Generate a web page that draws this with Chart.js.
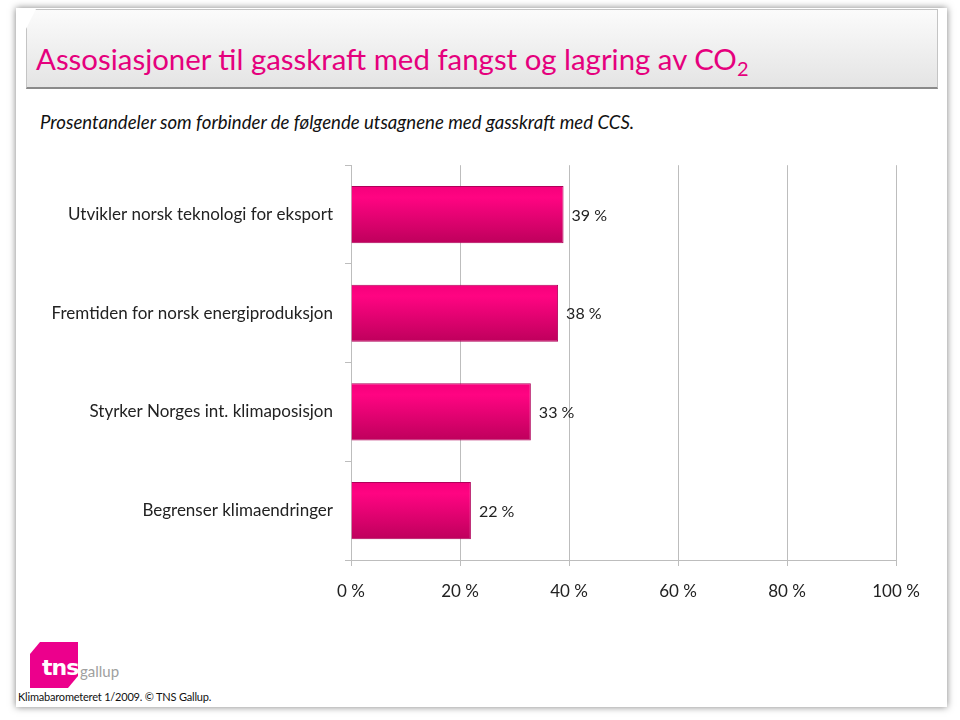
<!DOCTYPE html>
<html>
<head>
<meta charset="utf-8">
<script src="https://cdn.jsdelivr.net/npm/chart.js@4.4.1/dist/chart.umd.min.js"></script>
<style>
  html, body { margin: 0; padding: 0; background: #fff; width: 960px; height: 720px; overflow: hidden; }
  body { position: relative; font-family: Lato, "Open Sans", sans-serif; }
  .slide { position: absolute; left: 16px; top: 8px; width: 931px; height: 699px; background: #fff;
    box-shadow: 0 0 7px rgba(0,0,0,0.5); }
  .titlebox { position: absolute; left: 26px; top: 9px; width: 910px; height: 77px;
    background: linear-gradient(#fbfbfb, #e4e4e4); border: 1px solid #c4c4c4; border-bottom: 2px solid #8a8a8a;
    clip-path: polygon(10px 0, 100% 0, 100% 100%, 0 100%, 0 20px); }
  .title { position: absolute; left: 36px; top: 41px; font-size: 29.4px; color: #e5007d; white-space: nowrap; }
  .title sub { font-size: 20px; vertical-align: -6px; line-height: 0; }
  .subtitle { position: absolute; left: 40px; top: 111px; font-size: 18.6px; font-style: italic; color: #111; white-space: nowrap; }
  #wrap { position: absolute; left: 0; top: 143px; width: 960px; height: 477px; }
  .logo { position: absolute; left: 30px; top: 642px; width: 48px; height: 46px; background: #ec008c;
    clip-path: polygon(10px 0, 100% 0, 100% 34px, 38px 100%, 0 100%, 0 12px); }
  .tns { position: absolute; left: 42px; top: 655px; font-family: "DejaVu Sans", sans-serif; font-weight: bold; font-size: 22px; color: #fff; letter-spacing: -1px; }
  .gallup { position: absolute; left: 80px; top: 662px; font-size: 15px; color: #a0a0a0; }
  .footer { position: absolute; left: 18px; top: 690px; font-size: 11px; letter-spacing: -0.2px; color: #111; white-space: nowrap; }
</style>
</head>
<body>
<div class="slide"></div>
<div class="titlebox"></div>
<div class="title">Assosiasjoner til gasskraft med fangst og lagring av CO<sub>2</sub></div>
<div class="subtitle">Prosentandeler som forbinder de følgende utsagnene med gasskraft med CCS.</div>
<div id="wrap"><canvas id="chart"></canvas></div>
<div class="logo"></div>
<div class="tns">tns</div>
<div class="gallup">gallup</div>
<div class="footer">Klimabarometeret 1/2009. © TNS Gallup.</div>
<script>
const categories = [
  'Utvikler norsk teknologi for eksport',
  'Fremtiden for norsk energiproduksjon',
  'Styrker Norges int. klimaposisjon',
  'Begrenser klimaendringer'
];
const shares = [39, 38, 33, 22];
const xTicks = [0, 20, 40, 60, 80, 100];

const catFont = { family: 'Lato, sans-serif', size: 17 };
const tickFont = { family: 'Lato, sans-serif', size: 17 };
const valueFont = { family: 'Lato, sans-serif', size: 16 };
const BAR_PCT = 0.58;

// bar fill: bright pink on top, darker at the bottom
function barFill(ctx) {
  const y = ctx.chart.scales.y;
  if (!y || !y.height) return '#f0007c';
  const mid = y.getPixelForValue(ctx.dataIndex);
  const half = (y.height / categories.length) * BAR_PCT / 2;
  const g = ctx.chart.ctx.createLinearGradient(0, mid - half, 0, mid + half);
  g.addColorStop(0, '#f5007b');
  g.addColorStop(0.2, '#ff0482');
  g.addColorStop(1, '#be005c');
  return g;
}

const valueLabels = {
  id: 'valueLabels',
  afterDatasetsDraw(chart) {
    const c = chart.ctx;
    const meta = chart.getDatasetMeta(0);
    c.save();
    c.font = valueFont.size + 'px ' + valueFont.family;
    c.fillStyle = '#222';
    c.textBaseline = 'middle';
    meta.data.forEach((bar, i) => {
      c.fillText(shares[i] + ' %', bar.x + 8, bar.y + 1);
    });
    c.restore();
  }
};

new Chart(document.getElementById('chart'), {
  type: 'bar',
  data: {
    labels: categories,
    datasets: [{
      data: shares,
      backgroundColor: barFill,
      borderColor: '#b0005a',
      borderWidth: 1,
      borderSkipped: 'left',
      barPercentage: BAR_PCT,
      categoryPercentage: 1
    }]
  },
  options: {
    indexAxis: 'y',
    responsive: true,
    maintainAspectRatio: false,
    animation: false,
    layout: { padding: { left: 0, right: 64, top: 10, bottom: 0 } },
    plugins: { legend: { display: false }, tooltip: { enabled: false } },
    scales: {
      x: {
        min: 0,
        max: 100,
        afterBuildTicks(scale) { scale.ticks = xTicks.map(v => ({ value: v })); },
        afterFit(scale) { scale.height = 60; },
        grid: { color: '#bdbdbd', tickLength: 6, lineWidth: 1 },
        border: { color: '#bdbdbd' },
        ticks: {
          padding: 15,
          color: '#222',
          font: tickFont,
          callback: v => v + ' %'
        }
      },
      y: {
        afterFit(scale) { scale.width = 351; },
        grid: { drawOnChartArea: false, color: '#bdbdbd', tickLength: 6 },
        border: { color: '#bdbdbd' },
        ticks: { padding: 12, color: '#222', font: catFont }
      }
    }
  },
  plugins: [valueLabels]
});
</script>
</body>
</html>
